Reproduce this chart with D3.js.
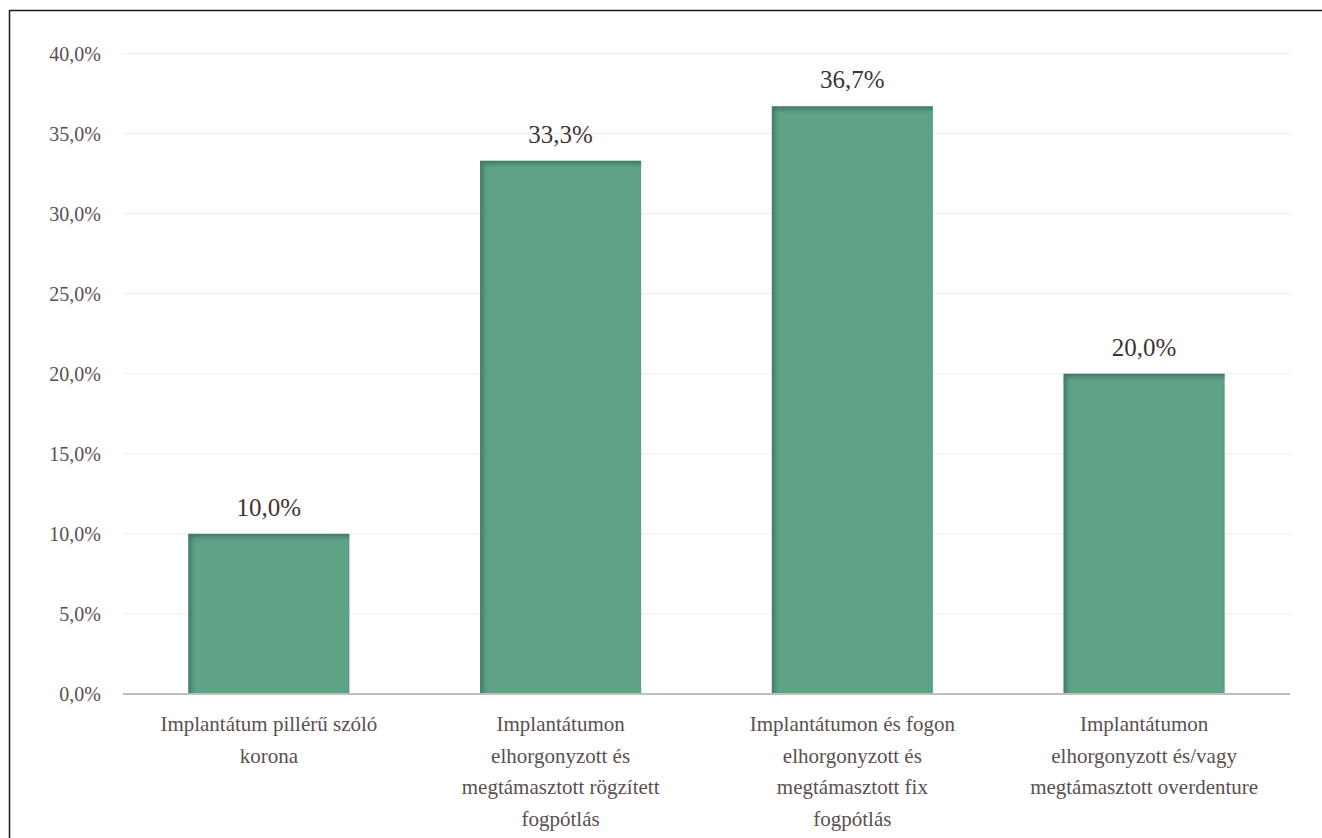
<!DOCTYPE html>
<html><head><meta charset="utf-8">
<script src="https://cdn.jsdelivr.net/npm/d3@7"></script>
</head><body style="margin:0;background:#fff">
<script>
const categories = [
  ["Implantátum pillérű szóló", "korona"],
  ["Implantátumon", "elhorgonyzott és", "megtámasztott rögzített", "fogpótlás"],
  ["Implantátumon és fogon", "elhorgonyzott és", "megtámasztott fix", "fogpótlás"],
  ["Implantátumon", "elhorgonyzott és/vagy", "megtámasztott overdenture"]
];
const values = [10.0, 33.3, 36.7, 20.0];
const yTicks = [0, 5, 10, 15, 20, 25, 30, 35, 40];

const W = 1322, H = 838;
const svg = d3.select("body").append("svg").attr("width", W).attr("height", H)
  .style("display", "block");

const defs = svg.append("defs");
const f = defs.append("filter").attr("id", "inset").attr("x", "-5%").attr("y", "-5%").attr("width", "110%").attr("height", "110%");
f.append("feFlood").attr("flood-color", "#2f5d4a").attr("flood-opacity", 0.75).attr("result", "c");
f.append("feComposite").attr("in", "c").attr("in2", "SourceAlpha").attr("operator", "out").attr("result", "inv");
f.append("feOffset").attr("in", "inv").attr("dx", 3).attr("dy", 3).attr("result", "off");
f.append("feGaussianBlur").attr("in", "off").attr("stdDeviation", 2.5).attr("result", "blur");
f.append("feComposite").attr("in", "blur").attr("in2", "SourceAlpha").attr("operator", "in").attr("result", "sh");
const m = f.append("feMerge");
m.append("feMergeNode").attr("in", "SourceGraphic");
m.append("feMergeNode").attr("in", "sh");

// frame
svg.append("line").attr("x1", 9.5).attr("x2", W).attr("y1", 10.5).attr("y2", 10.5).attr("stroke", "#1a1a1a").attr("stroke-width", 1.5);
svg.append("line").attr("x1", 9.5).attr("x2", 9.5).attr("y1", 10).attr("y2", H).attr("stroke", "#1a1a1a").attr("stroke-width", 1.5);

const x0 = 123, x1 = 1290, yTop = 53.5, yBase = 694;
const x = d3.scaleBand().domain(d3.range(categories.length)).range([x0, x1]).paddingInner(0.448).paddingOuter(0.224);
const y = d3.scaleLinear().domain([0, 40]).range([yBase, yTop]);

// grid
svg.append("g").selectAll("line").data(yTicks.filter(d => d > 0)).join("line")
  .attr("x1", x0).attr("x2", x1).attr("y1", d => y(d)).attr("y2", d => y(d))
  .attr("stroke", "#efefef").attr("stroke-width", 1.2);

const serif = () => "Liberation Serif";

// y labels
const fmt = d => d.toFixed(1).replace(".", ",") + "%";
svg.append("g").selectAll("text").data(yTicks).join("text")
  .attr("x", 101).attr("y", d => y(d) + 7)
  .attr("text-anchor", "end").attr("font-family", serif).attr("font-size", 20)
  .attr("fill", "#5a5050").text(fmt);

// bars
svg.append("g").selectAll("rect").data(values).join("rect")
  .attr("x", (d, i) => x(i)).attr("width", x.bandwidth())
  .attr("y", d => y(d)).attr("height", d => yBase - y(d))
  .attr("fill", "#5fa387").attr("filter", "url(#inset)");

// baseline
svg.append("line").attr("x1", x0).attr("x2", x1).attr("y1", yBase).attr("y2", yBase)
  .attr("stroke", "#bfbfbf").attr("stroke-width", 2.2);

// data labels
svg.append("g").selectAll("text").data(values).join("text")
  .attr("x", (d, i) => x(i) + x.bandwidth() / 2).attr("y", d => y(d) - 18)
  .attr("text-anchor", "middle").attr("font-family", serif).attr("font-size", 25)
  .attr("fill", "#3f3434").text(fmt);

// category labels: one text element per line
const lines = [];
categories.forEach((c, i) => c.forEach((t, j) => lines.push({ i, j, t })));
svg.append("g").selectAll("text").data(lines).join("text")
  .attr("x", d => x(d.i) + x.bandwidth() / 2).attr("y", d => 731 + d.j * 31.7)
  .attr("text-anchor", "middle").attr("font-family", serif).attr("font-size", 21)
  .attr("fill", "#5a5050").text(d => d.t);
</script>
</body></html>
